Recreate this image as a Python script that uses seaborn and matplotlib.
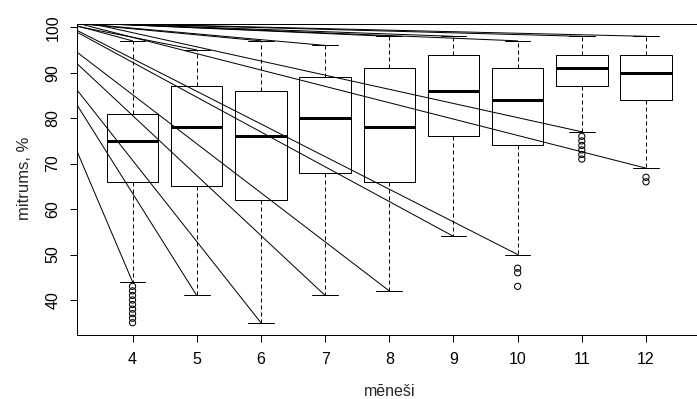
import numpy as np
import pandas as pd
import matplotlib
matplotlib.use("Agg")
import matplotlib.pyplot as plt
import seaborn as sns

# ---- data ----
months = ["4", "5", "6", "7", "8", "9", "10", "11", "12"]
whisker_low = [44, 41, 35, 41, 42, 54, 50, 77, 69]
q1 = [66, 65, 62, 68, 66, 76, 74, 87, 84]
median = [75, 78, 76, 80, 78, 86, 84, 91, 90]
q3 = [81, 87, 86, 89, 91, 94, 91, 94, 94]
whisker_high = [97, 95, 97, 96, 98, 98, 97, 98, 98]

outlier_month = ["4"] * 9 + ["10"] * 3 + ["11"] * 6 + ["12"] * 2
outlier_value = [43, 42, 41, 40, 39, 38, 37, 36, 35,
                 47, 46, 43,
                 76, 75, 74, 73, 72, 71,
                 67, 66]

# start levels (at left edge of the plot) of the stray straight lines
line_start_low = [72.7, 82.9, 86.2, 92.0, 94.5, 98.9, 99.3, 101.5, 100.9]
line_start_high = [100.3, 100.2, 100.8, 100.9, 101.0, 101.0, 101.0, 101.0, 101.0]

y_ticks = [40, 50, 60, 70, 80, 90, 100]
x_label = "mēneši"
y_label = "mitrums, %"

# ---- long table for seaborn (five-number summary per month) ----
rows = []
for m, a, b, c, d, e in zip(months, whisker_low, q1, median, q3, whisker_high):
    for v in (a, b, c, d, e):
        rows.append({"month": m, "value": v})
df = pd.DataFrame(rows)
out_df = pd.DataFrame({"month": outlier_month, "value": outlier_value})

sns.set_theme(style="white")
plt.rcParams["font.family"] = ["Liberation Sans", "DejaVu Sans"]
plt.rcParams["font.size"] = 11

fig = plt.figure(figsize=(6.97, 3.99), dpi=100)
ax = fig.add_axes([0.1105, 0.1604, 0.8960, 0.7782])

px = 0.72  # one pixel in points

sns.boxplot(data=df, x="month", y="value", order=months, ax=ax,
            whis=np.inf, width=0.8, color="white", linecolor="black",
            linewidth=px, fliersize=0,
            whiskerprops=dict(linestyle=(0, (4, 3)), linewidth=px, color="black"),
            capprops=dict(linewidth=px, color="black"),
            medianprops=dict(linewidth=3 * px, color="black"),
            boxprops=dict(facecolor="none", edgecolor="black", linewidth=px))

pos = {m: i for i, m in enumerate(months)}
sns.scatterplot(x=[pos[m] for m in out_df["month"]], y=out_df["value"], ax=ax,
                marker="o", s=20, color="black", legend=False)
pts = ax.collections[-1]
pts.set_facecolor("none")
pts.set_edgecolor("black")
pts.set_linewidth(0.75)

x_left, x_right = -0.865, 8.865
for i in range(len(months)):
    ax.plot([x_left, i], [line_start_low[i], whisker_low[i]], color="black", lw=px, zorder=3)
    ax.plot([x_left, i], [line_start_high[i], whisker_high[i]], color="black", lw=px, zorder=3)

ax.set_xlim(x_left, x_right)
ax.set_ylim(32.3, 100.6)
ax.set_yticks(y_ticks)
ax.set_yticklabels([str(t) for t in y_ticks], rotation=90, va="center")
ax.tick_params(axis="both", which="both", direction="out", length=5, width=px,
               color="black", labelcolor="black", pad=7,
               bottom=True, left=True)
ax.tick_params(axis="x", labelsize=11.5)
ax.tick_params(axis="y", labelsize=11.5)
for s in ax.spines.values():
    s.set_visible(True)
    s.set_color("black")
    s.set_linewidth(px)

ax.set_xlabel(x_label, fontsize=11.5)
ax.set_ylabel(y_label, fontsize=12)
ax.xaxis.set_label_coords(0.5, -0.158)
ax.yaxis.set_label_coords(-0.072, 0.506)

fig.savefig("out.png", dpi=100)
